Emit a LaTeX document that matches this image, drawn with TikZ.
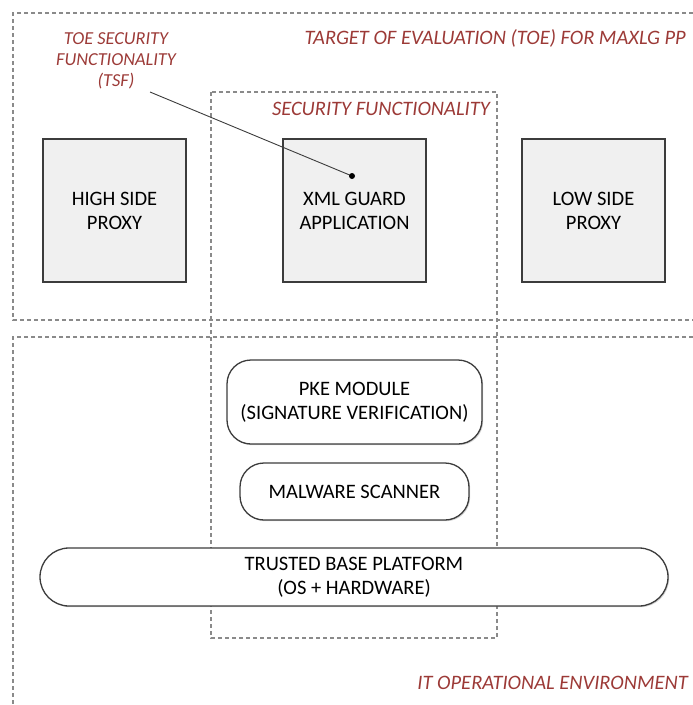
\documentclass[tikz,border=0pt]{standalone}
\usepackage{fontspec}
\setmainfont{Carlito}
\usetikzlibrary{shadows}
\definecolor{labelred}{HTML}{9C3A37}
\definecolor{edgegray}{HTML}{3C3C3C}
\definecolor{dashgray}{HTML}{8A8A8A}
\definecolor{boxfill}{HTML}{F0F0F0}
\tikzset{
  region/.style={draw=dashgray, line width=1.2pt, dash pattern=on 4pt off 3pt},
  redlabel/.style={text=labelred, font=\fontsize{20.5}{24}\selectfont\itshape, inner sep=0pt},
  component/.style={draw=edgegray, line width=1.3pt, fill=boxfill, minimum width=143pt, minimum height=143pt,
    align=center, font=\fontsize{20.5}{24}\selectfont, text=black,
    drop shadow={shadow xshift=1.2pt, shadow yshift=-1.2pt, opacity=0.35}},
  module/.style={draw=edgegray, line width=1.3pt, fill=white, rounded corners=24pt,
    align=center, font=\fontsize{20.5}{24}\selectfont, text=black,
    drop shadow={shadow xshift=1.2pt, shadow yshift=-1.2pt, opacity=0.35}}
}
\begin{document}
\begin{tikzpicture}[x=1pt, y=-1pt]
  \useasboundingbox (0,0) rectangle (693,705);
  % dashed region outlines
  \draw[region] (700,13) -- (13,13) -- (13,320) -- (700,320);
  \draw[region] (700,337) -- (13,337) -- (13,712);
  \draw[region] (211,92) rectangle (497,638);
  % region captions
  \node[redlabel, anchor=east] (toecap) at (686,38) {TARGET OF EVALUATION (TOE) FOR MAXLG PP};
  \node[redlabel, anchor=east] (sfcap) at (490,109) {SECURITY FUNCTIONALITY};
  \node[redlabel, anchor=east] (itcap) at (688,683) {IT OPERATIONAL ENVIRONMENT};
  \node[redlabel, align=center, font=\fontsize{18.3}{21}\selectfont\itshape] (tsf) at (116,61)
    {TOE SECURITY\\FUNCTIONALITY\\(TSF)};
  % top-level components
  \node[component] (high) at (114.5,210.5) {HIGH SIDE\\PROXY};
  \node[component] (guard) at (354.5,210.5) {XML GUARD\\APPLICATION};
  \node[component] (low) at (593.5,210.5) {LOW SIDE\\PROXY};
  % environment modules
  \node[module, minimum width=255pt, minimum height=84pt] (pke) at (354.5,402) {PKE MODULE\\(SIGNATURE VERIFICATION)};
  \node[module, minimum width=229pt, minimum height=57pt] (scan) at (354.5,491.5) {MALWARE SCANNER};
  \node[module, minimum width=628pt, minimum height=58pt, rounded corners=29pt] (tbp) at (354,577) {TRUSTED BASE PLATFORM\\(OS + HARDWARE)};
  % TSF pointer
  \coordinate (tsfend) at (352,176);
  \coordinate (tsfstart) at (150,92);
  \draw[edgegray, line width=0.9pt] (tsfstart) -- (tsfend);
  \fill[black] (tsfend) circle (3pt);
\end{tikzpicture}
\end{document}
